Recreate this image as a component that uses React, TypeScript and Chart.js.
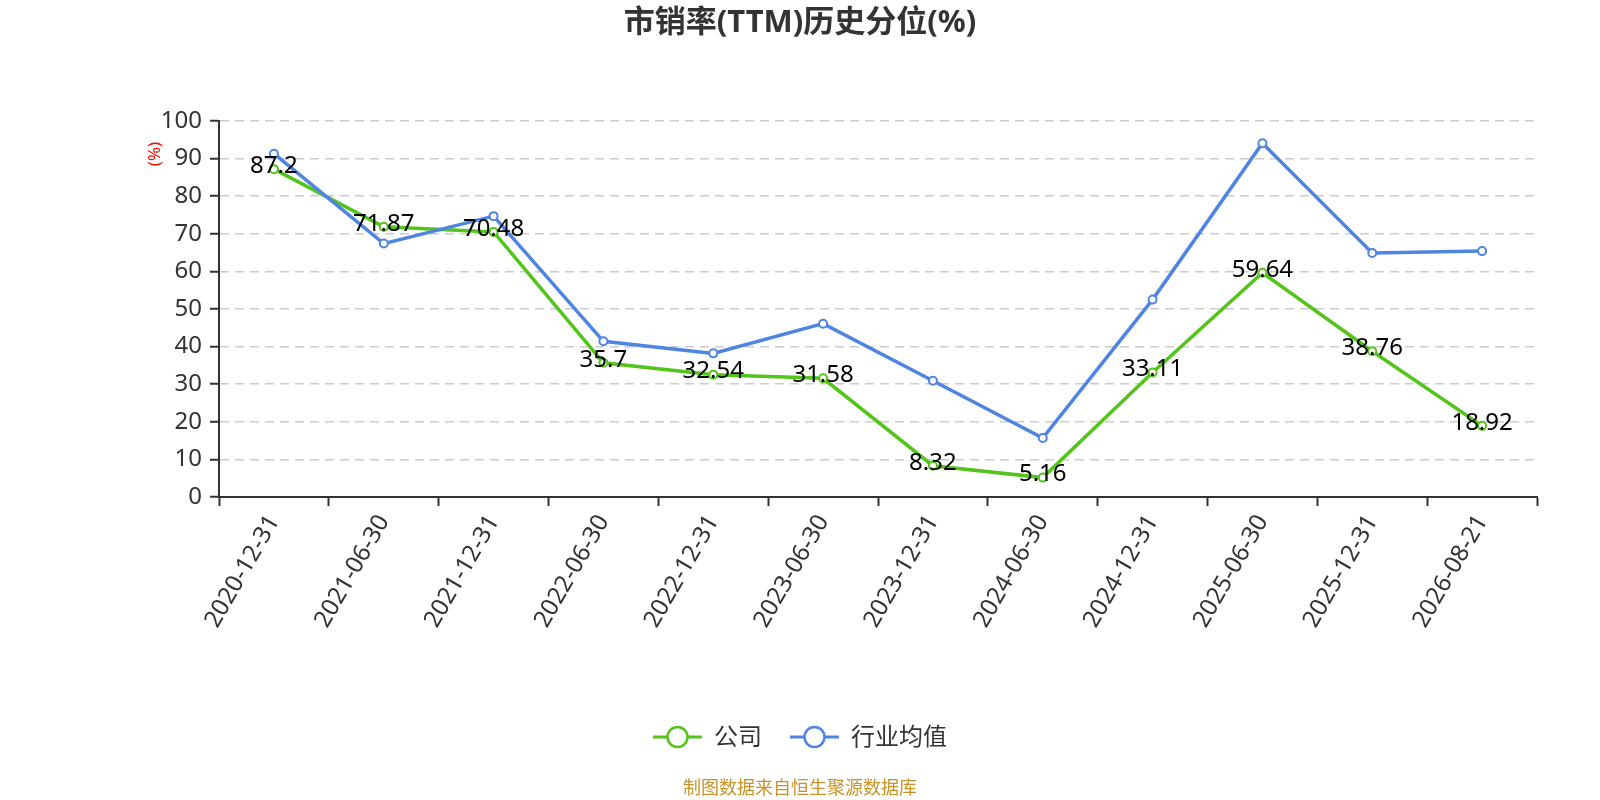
import { useEffect, useRef } from "react"
import { Chart, registerables } from "chart.js"

Chart.register(...registerables)

const FONT = "'Noto Sans', 'Noto Sans CJK SC', sans-serif"

// data
const dates = [
  "2020-12-31",
  "2021-06-30",
  "2021-12-31",
  "2022-06-30",
  "2022-12-31",
  "2023-06-30",
  "2023-12-31",
  "2024-06-30",
  "2024-12-31",
  "2025-06-30",
  "2025-12-31",
  "2026-08-21",
]
const companyValues = [87.2, 71.87, 70.48, 35.7, 32.54, 31.58, 8.32, 5.16, 33.11, 59.64, 38.76, 18.92]
const industryValues = [91.3, 67.4, 74.7, 41.4, 38.2, 46.1, 30.9, 15.7, 52.5, 94.1, 64.9, 65.4]
const seriesNames = ["公司", "行业均值"]
const seriesColors = ["#52C41A", "#4E84E2"]
const yMin = 0
const yMax = 100
const yStep = 10

const titleText = "市销率(TTM)历史分位(%)"
const unitText = "(%)"
const sourceText = "制图数据来自恒生聚源数据库"

const decorPlugin = {
  id: "decor",
  afterDatasetsDraw(chart: any) {
    const ctx = chart.ctx
    const meta = chart.getDatasetMeta(0)
    ctx.save()
    ctx.font = `24px ${FONT}`
    ctx.fillStyle = "#000"
    ctx.textAlign = "center"
    ctx.textBaseline = "middle"
    meta.data.forEach((pt: any, i: number) => {
      ctx.fillText(String(companyValues[i]), pt.x, pt.y - 3)
    })
    ctx.restore()
  },
  afterDraw(chart: any) {
    const ctx = chart.ctx
    const w = chart.width
    ctx.save()

    // title
    ctx.font = `bold 31px ${FONT}`
    ctx.fillStyle = "#333"
    ctx.textAlign = "center"
    ctx.textBaseline = "middle"
    ctx.fillText(titleText, w / 2, 23)

    // unit label
    ctx.save()
    ctx.translate(155, 154)
    ctx.rotate(-Math.PI / 2)
    ctx.font = `17px ${FONT}`
    ctx.fillStyle = "#f00"
    ctx.fillText(unitText, 0, 0)
    ctx.restore()

    // legend
    ctx.font = `24px ${FONT}`
    const symW = 49
    const gapText = 12
    const gapItem = 28
    const widths = seriesNames.map((n) => ctx.measureText(n).width)
    const total = widths.reduce((a, b) => a + b, 0) + seriesNames.length * (symW + gapText) + gapItem * (seriesNames.length - 1)
    let x = w / 2 - total / 2
    const ly = 737
    seriesNames.forEach((name, i) => {
      ctx.strokeStyle = seriesColors[i]
      ctx.lineWidth = 3
      ctx.beginPath()
      ctx.moveTo(x, ly)
      ctx.lineTo(x + symW, ly)
      ctx.stroke()
      ctx.beginPath()
      ctx.arc(x + symW / 2, ly, 10, 0, Math.PI * 2)
      ctx.fillStyle = "#fff"
      ctx.fill()
      ctx.lineWidth = 2.5
      ctx.stroke()
      ctx.fillStyle = "#333"
      ctx.textAlign = "left"
      ctx.fillText(name, x + symW + gapText, ly + 1)
      x += symW + gapText + widths[i] + gapItem
    })

    // source
    ctx.font = `18px ${FONT}`
    ctx.fillStyle = "#C8922A"
    ctx.textAlign = "center"
    ctx.fillText(sourceText, w / 2, 789)
    ctx.restore()
  },
}

function SalesPercentileChart() {
  const chartRef = useRef<HTMLCanvasElement>(null)
  const chartInstance = useRef<Chart | null>(null)

  useEffect(() => {
    if (!chartRef.current) return
    if (chartInstance.current) chartInstance.current.destroy()

    const ctx = chartRef.current.getContext("2d")
    if (!ctx) return

    chartInstance.current = new Chart(ctx, {
      type: "line",
      data: {
        labels: dates,
        datasets: [
          {
            label: seriesNames[0],
            data: companyValues,
            borderColor: seriesColors[0],
            backgroundColor: seriesColors[0],
            borderWidth: 3.5,
            tension: 0,
            pointRadius: 4,
            pointBorderWidth: 2,
            pointBackgroundColor: "#fff",
            pointBorderColor: seriesColors[0],
            order: 1,
          },
          {
            label: seriesNames[1],
            data: industryValues,
            borderColor: seriesColors[1],
            backgroundColor: seriesColors[1],
            borderWidth: 3.5,
            tension: 0,
            pointRadius: 4,
            pointBorderWidth: 2,
            pointBackgroundColor: "#fff",
            pointBorderColor: seriesColors[1],
            order: 0,
          },
        ],
      },
      options: {
        animation: false,
        responsive: true,
        maintainAspectRatio: false,
        layout: { padding: { left: 0, right: 63, top: 121, bottom: 0 } },
        plugins: {
          legend: { display: false },
          title: { display: false },
          tooltip: { enabled: false },
        },
        scales: {
          x: {
            offset: true,
            grid: {
              offset: true,
              drawOnChartArea: false,
              color: "#333",
              tickColor: "#333",
              tickLength: 9,
              tickWidth: 2,
            },
            border: { color: "#333", width: 2 },
            ticks: {
              autoSkip: false,
              maxRotation: 60,
              minRotation: 60,
              color: "#333",
              padding: 4,
              font: { size: 24, family: FONT },
            },
            afterFit: (s: any) => {
              s.height = 303
            },
          },
          y: {
            min: yMin,
            max: yMax,
            ticks: {
              stepSize: yStep,
              color: "#333",
              padding: 8,
              font: { size: 24, family: FONT },
            },
            grid: {
              color: "#ccc",
              lineWidth: 1.5,
              tickColor: "#333",
              tickLength: 9,
              tickWidth: 2,
            },
            border: { color: "#333", width: 2, dash: [9, 6] },
            afterFit: (s: any) => {
              s.width = 219
            },
          },
        },
      },
      plugins: [decorPlugin],
    })

    return () => {
      if (chartInstance.current) {
        chartInstance.current.destroy()
        chartInstance.current = null
      }
    }
  }, [])

  return (
    <div style={{ position: "fixed", left: 0, top: 0, width: 1600, height: 800, background: "#fff" }}>
      <canvas ref={chartRef} />
    </div>
  )
}

export default function App() {
  return <SalesPercentileChart />
}
